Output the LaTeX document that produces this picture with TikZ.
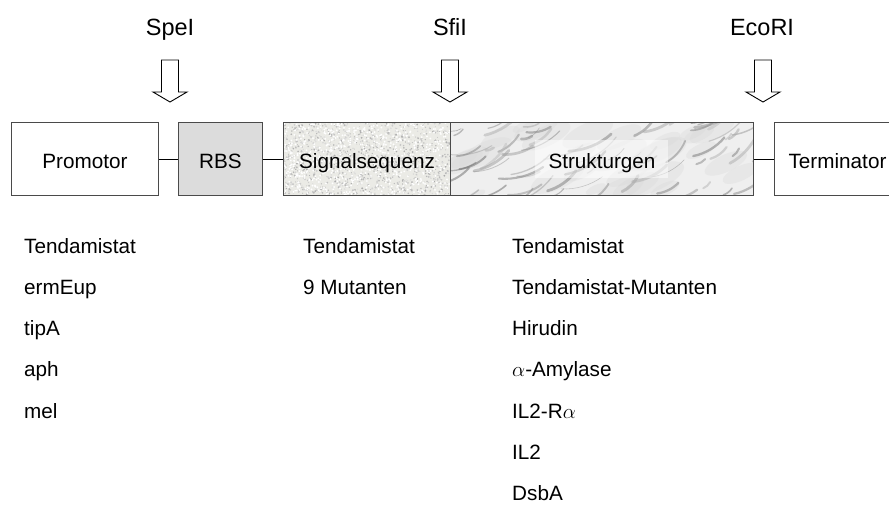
\documentclass[tikz,border=0pt]{standalone}
\usepackage{fontspec}
\setmainfont{Liberation Sans}
\definecolor{boxline}{HTML}{4A4A4A}
\definecolor{rbsfill}{HTML}{DCDCDC}
\definecolor{granite}{HTML}{EBEBE6}
\definecolor{marble}{HTML}{EFEFEF}
\newcommand{\bodyfont}{\fontsize{20.7}{24}\selectfont}
\newcommand{\sitefont}{\fontsize{23.5}{27}\selectfont}
\begin{document}
\begin{tikzpicture}[x=1pt,y=-1pt,
  genebox/.style={draw=boxline, line width=1pt, minimum height=73pt,
    inner sep=0pt, anchor=north west, font=\bodyfont,
    text height=18pt, text depth=0pt},
  linker/.style={draw=black, line width=1pt},
  site/.style={font=\sitefont, anchor=base},
  entry/.style={font=\bodyfont, anchor=base west, inner sep=0pt},
  cutmark/.style={draw=black, line width=0.9pt, fill=white, line join=miter}]
\useasboundingbox (0,0) rectangle (889,504);

% --- textures of the signal sequence (granite) and the structural gene (marble)
\begin{scope}
  \clip (283,122) rectangle (450,195);
  \fill[granite] (283,122) rectangle (450,195);
  \pgfmathsetseed{11}
  \foreach \i in {1,...,1300} {
    \pgfmathsetmacro\px{283+rnd*167}
    \pgfmathsetmacro\py{122+rnd*73}
    \pgfmathsetmacro\g{int(12+rnd*22)}
    \pgfmathsetmacro\r{0.4+rnd*0.7}
    \fill[black!\g] (\px,\py) circle[radius=\r];
  }
  \foreach \i in {1,...,700} {
    \pgfmathsetmacro\px{283+rnd*167}
    \pgfmathsetmacro\py{122+rnd*73}
    \fill[white] (\px,\py) circle[radius=1];
  }
\end{scope}
\begin{scope}
  \clip (450,122) rectangle (753,195);
  \fill[marble] (450,122) rectangle (753,195);
  \pgfmathsetseed{5}
  % soft clouds
  \foreach \i in {1,...,30} {
    \pgfmathsetmacro\sx{450+rnd*303}
    \pgfmathsetmacro\sy{122+rnd*73}
    \pgfmathsetmacro\rr{6+rnd*14}
    \fill[black!15, opacity=0.35] (\sx,\sy) ellipse[x radius=\rr*1.6, y radius=\rr*0.6, rotate=25];
  }
  % veins
  \foreach \i in {1,...,75} {
    \pgfmathsetmacro\sx{440+rnd*320}
    \pgfmathsetmacro\sy{118+rnd*85}
    \pgfmathsetmacro\len{8+rnd*40}
    \pgfmathsetmacro\ang{-(10+rnd*40)}
    \pgfmathsetmacro\g{int(25+rnd*35)}
    \pgfmathsetmacro\w{0.5+rnd*2.4}
    \draw[black!\g, line width=\w pt, opacity=0.5, line cap=round]
      (\sx,\sy) .. controls +(\ang+20:\len/3) and +(\ang+160:\len/3) .. ++(\ang:\len);
  }
  \fill[white, opacity=0.5] (535,140) rectangle (668,178);
\end{scope}

% --- gene cassette
\node[genebox, minimum width=147pt] (prom) at (11,122) {Promotor};
\node[genebox, minimum width=84pt, fill=rbsfill] (rbs) at (178,122) {RBS};
\node[genebox, minimum width=167pt] (sig) at (283,122) {Signalsequenz};
\node[genebox, minimum width=303pt] (struk) at (450,122) {Strukturgen};
\node[genebox, minimum width=126pt] (term) at (774,122) {Terminator};

\draw[linker] (prom) -- (rbs);
\draw[linker] (rbs) -- (sig);
\draw[linker] (struk) -- (term);

% --- restriction sites with hollow arrows
\node[site] (spe) at (170,35) {SpeI};
\node[site] (sfi) at (450,35) {SfiI};
\node[site] (eco) at (762,35) {EcoRI};
\foreach \c in {170,450,763} {
  \draw[cutmark] (\c-8.5,60) -- (\c+8.5,60) -- (\c+8.5,92) -- (\c+17,92)
    -- (\c,102) -- (\c-17,92) -- (\c-8.5,92) -- cycle;
}

% --- variants per element
\node[entry] (p1) at (24,253) {Tendamistat};
\node[entry] (p2) at (24,294.3) {ermEup};
\node[entry] (p3) at (24,335.6) {tipA};
\node[entry] (p4) at (24,376.9) {aph};
\node[entry] (p5) at (24,418.2) {mel};

\node[entry] (s1) at (303,253) {Tendamistat};
\node[entry] (s2) at (303,294.3) {9 Mutanten};

\node[entry] (g1) at (512,253) {Tendamistat};
\node[entry] (g2) at (512,294.3) {Tendamistat-Mutanten};
\node[entry] (g3) at (512,335.6) {Hirudin};
\node[entry] (g4) at (512,376.9) {$\alpha$-Amylase};
\node[entry] (g5) at (512,418.2) {IL2-R$\alpha$};
\node[entry] (g6) at (512,459.5) {IL2};
\node[entry] (g7) at (512,500.8) {DsbA};
\end{tikzpicture}
\end{document}
